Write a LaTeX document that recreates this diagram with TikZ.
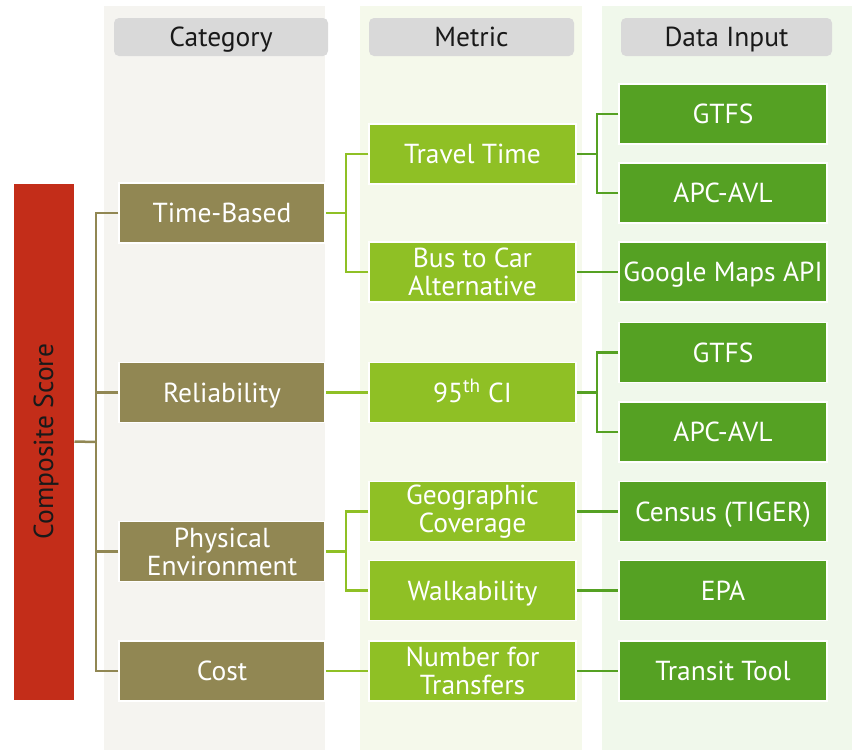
\documentclass[tikz,border=0pt]{standalone}
\usepackage{fontspec}
\setmainfont{PT Sans}
\definecolor{catbg}{HTML}{F5F4F0}
\definecolor{metbg}{HTML}{F5F9EB}
\definecolor{databg}{HTML}{F0F8EB}
\definecolor{hdrgray}{HTML}{D9D9D9}
\definecolor{olivebox}{HTML}{918753}
\definecolor{limebox}{HTML}{8FC025}
\definecolor{greenbox}{HTML}{55A123}
\definecolor{redbox}{HTML}{C32D19}
\tikzset{
  basebox/.style={rectangle, draw=white, line width=1.5pt, text=white, align=center,
    font=\fontsize{27.5}{28}\selectfont, inner sep=0pt},
  oneline/.style={text height=19pt, text depth=0pt},
  catbox/.style={basebox, fill=olivebox, minimum width=206pt, minimum height=60pt},
  metbox/.style={basebox, fill=limebox, minimum width=207pt, minimum height=60pt},
  databox/.style={basebox, fill=greenbox, minimum width=208pt, minimum height=60pt},
  hdr/.style={rectangle, rounded corners=5pt, fill=hdrgray, minimum height=38pt,
    font=\fontsize{27.5}{28}\selectfont, text=black!90, inner sep=0pt,
    text height=19pt, text depth=0pt},
  oline/.style={draw=olivebox, line width=2.5pt},
  lline/.style={draw=limebox, line width=2.5pt},
  gline/.style={draw=greenbox, line width=2.5pt},
}
\begin{document}
\begin{tikzpicture}[x=1pt,y=-1pt]
\useasboundingbox (0,0) rectangle (852,750);
% column backgrounds
\fill[catbg] (104,6) rectangle (325,750);
\fill[metbg] (360,6) rectangle (582,750);
\fill[databg] (602,6) rectangle (852,750);
% headers
\node[hdr, minimum width=214pt] (hcat) at (221,37) {Category};
\node[hdr, minimum width=205pt] (hmet) at (471.5,37) {Metric};
\node[hdr, minimum width=211pt] (hdat) at (726.5,37) {Data Input};
% composite
\node[rectangle, fill=redbox, draw=white, line width=1pt, minimum width=61pt, minimum height=517pt,
  inner sep=0pt] (comp) at (43.5,441.5) {};
\node[rotate=90, font=\fontsize{27.5}{28}\selectfont, text=black!90, text height=19pt, text depth=0pt]
  (comptext) at (comp.center) {Composite Score};
% categories
\node[catbox, oneline] (tb) at (222,213) {Time-Based};
\node[catbox, oneline] (rel) at (222,392.5) {Reliability};
\node[catbox] (phys) at (222,551.5) {Physical\\Environment};
\node[catbox, oneline] (cost) at (222,671) {Cost};
% metrics
\node[metbox, oneline] (tt) at (472.5,154) {Travel Time};
\node[metbox] (bc) at (472.5,272) {Bus to Car\\Alternative};
\node[metbox, oneline] (ci) at (472.5,392.5) {95\textsuperscript{th} CI};
\node[metbox] (geo) at (472.5,511.5) {Geographic\\Coverage};
\node[metbox, oneline] (walk) at (472.5,590.5) {Walkability};
\node[metbox] (num) at (472.5,671) {Number for\\Transfers};
% data inputs
\node[databox, oneline] (gtfs1) at (723,114) {GTFS};
\node[databox, oneline] (apc1) at (723,193) {APC-AVL};
\node[databox, oneline] (gmap) at (723,272) {Google Maps API};
\node[databox, oneline] (gtfs2) at (723,352.5) {GTFS};
\node[databox, oneline] (apc2) at (723,432) {APC-AVL};
\node[databox, oneline] (census) at (723,511.5) {Census (TIGER)};
\node[databox, oneline] (epa) at (723,590.5) {EPA};
\node[databox, oneline] (tool) at (723,671) {Transit Tool};
% junction coordinates
\coordinate (trunk) at (96,442);
\coordinate (j1) at (346,213);
\coordinate (j3) at (346,551.5);
\coordinate (k1) at (597,154);
\coordinate (k3) at (597,392.5);
% composite -> categories
\draw[oline] (comp.east) -- (trunk);
\draw[oline] (tb.west) -| (trunk);
\draw[oline] (rel.west) -| (trunk);
\draw[oline] (phys.west) -| (trunk);
\draw[oline] (cost.west) -| (trunk);
% categories -> metrics
\draw[lline] (tb.east) -- (j1);
\draw[lline] (tt.west) -| (j1);
\draw[lline] (bc.west) -| (j1);
\draw[lline] (rel.east) -- (ci.west);
\draw[lline] (phys.east) -- (j3);
\draw[lline] (geo.west) -| (j3);
\draw[lline] (walk.west) -| (j3);
\draw[lline] (cost.east) -- (num.west);
% metrics -> data
\draw[gline] (tt.east) -- (k1);
\draw[gline] (gtfs1.west) -| (k1);
\draw[gline] (apc1.west) -| (k1);
\draw[gline] (bc.east) -- (gmap.west);
\draw[gline] (ci.east) -- (k3);
\draw[gline] (gtfs2.west) -| (k3);
\draw[gline] (apc2.west) -| (k3);
\draw[gline] (geo.east) -- (census.west);
\draw[gline] (walk.east) -- (epa.west);
\draw[gline] (num.east) -- (tool.west);
\end{tikzpicture}
\end{document}
